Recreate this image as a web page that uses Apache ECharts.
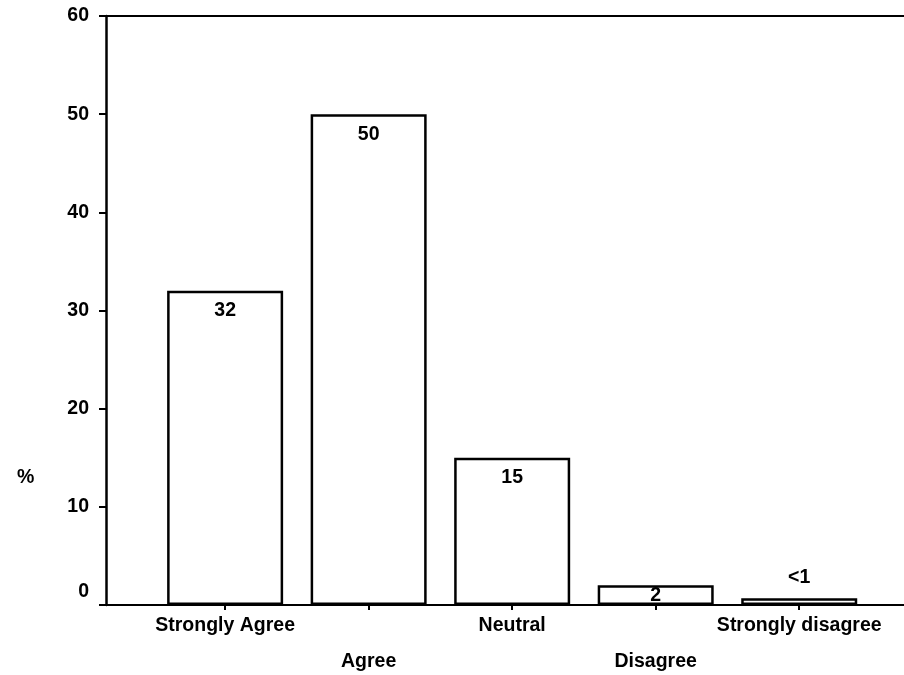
<!DOCTYPE html>
<html>
<head>
<meta charset="utf-8">
<style>
  html, body { margin: 0; padding: 0; background: #fff; }
  #chart { width: 904px; height: 675px; }
</style>
<script src="https://cdn.jsdelivr.net/npm/echarts@6/dist/echarts.min.js"></script>
</head>
<body>
<div id="chart"></div>
<script>
// Survey responses, percent of respondents
const categories = ['Strongly Agree', 'Agree', 'Neutral', 'Disagree', 'Strongly disagree'];
const values = [32, 50, 15, 2, 0.7];
const valueLabels = ['32', '50', '15', '2', '<1'];
const yTicks = [0, 10, 20, 30, 40, 50, 60];

const FONT = '"Liberation Sans", Arial, sans-serif';
const positions = categories.map((_, i) => i);

const chart = echarts.init(document.getElementById('chart'), null, { renderer: 'canvas' });

const data = values.map((v, i) => {
  const item = { value: [positions[i], v] };
  if (valueLabels[i] === '<1') {
    item.label = { position: 'top', distance: 11 };
  } else if (v < 5) {
    item.label = { position: 'insideTop', distance: 0 };
  }
  return item;
});

chart.setOption({
  animation: false,
  backgroundColor: '#ffffff',
  title: {
    text: '%',
    left: 12,
    top: 463,
    textStyle: { fontFamily: FONT, fontWeight: 'bold', fontSize: 19.5, color: '#000' }
  },
  grid: { left: 106, right: 0, top: 16, bottom: 70, containLabel: false },
  xAxis: [
    {
      type: 'value',
      min: -0.83,
      max: 4.73,
      position: 'bottom',
      splitLine: { show: false },
      axisLine: { show: true, onZero: false, lineStyle: { color: '#000', width: 2 } },
      axisTick: { show: true, customValues: positions, length: 5, lineStyle: { color: '#000', width: 2 } },
      axisLabel: {
        show: true,
        customValues: positions,
        margin: 12,
        fontFamily: FONT,
        fontWeight: 'bold',
        fontSize: 19.5,
        lineHeight: 18,
        color: '#000',
        formatter: (v) => {
          const i = Math.round(v);
          const name = categories[i] || '';
          return i % 2 === 1 ? '\n\n' + name : name;
        }
      }
    },
    {
      type: 'value',
      min: -0.83,
      max: 4.73,
      position: 'top',
      splitLine: { show: false },
      axisLine: { show: true, onZero: false, lineStyle: { color: '#000', width: 2 } },
      axisTick: { show: false },
      axisLabel: { show: false }
    }
  ],
  yAxis: {
    type: 'value',
    min: 0,
    max: 60,
    interval: 10,
    position: 'left',
    splitLine: { show: false },
    axisLine: { show: true, onZero: false, lineStyle: { color: '#000', width: 2.5 } },
    axisTick: { show: true, length: 7, lineStyle: { color: '#000', width: 2 } },
    axisLabel: {
      margin: 17,
      fontFamily: FONT,
      fontWeight: 'bold',
      fontSize: 19.5,
      color: '#000',
      formatter: (v) => (v === 0 ? '{z|' + v + '}' : String(v)),
      rich: {
        z: { fontFamily: FONT, fontWeight: 'bold', fontSize: 19.5, color: '#000', padding: [0, 0, 26, 0] }
      }
    }
  },
  series: [
    {
      type: 'bar',
      xAxisIndex: 0,
      barWidth: 116,
      data: data,
      itemStyle: { color: '#ffffff', borderColor: '#000', borderWidth: 2.5 },
      label: {
        show: true,
        position: 'insideTop',
        distance: 10,
        fontFamily: FONT,
        fontWeight: 'bold',
        fontSize: 19.5,
        color: '#000',
        formatter: (p) => valueLabels[p.dataIndex]
      }
    }
  ]
});
</script>
</body>
</html>
